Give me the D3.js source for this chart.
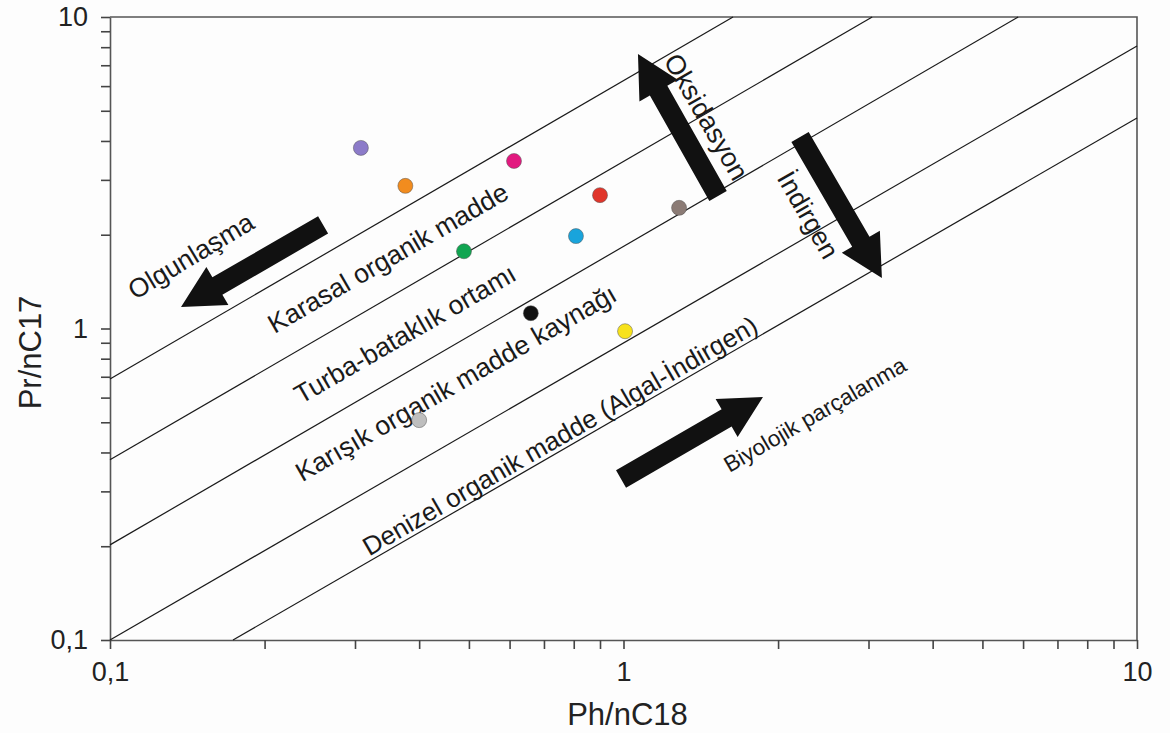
<!DOCTYPE html>
<html><head><meta charset="utf-8">
<script src="https://cdn.jsdelivr.net/npm/d3@7"></script>
<style>
html,body{margin:0;padding:0;background:#fdfdfd;}
svg{display:block;font-family:"Liberation Sans",Arial,sans-serif;}
</style></head>
<body>
<svg id="chart" width="1170" height="733"></svg>
<script>
// ---- data ----
const samples = ["s1","s2","s3","s4","s5","s6","s7","s8","s9","s10"];
const phC18 = [0.308, 0.376, 0.612, 0.900, 1.283, 0.489, 0.808, 0.660, 1.007, 0.400];
const prC17 = [3.80, 2.87, 3.45, 2.68, 2.44, 1.77, 1.98, 1.12, 0.98, 0.508];
const sampleColors = ["#8c7bc9","#f28c1e","#e2197f","#e0352b","#8b7b75","#11a551","#19a4dc","#111111","#f7e21b","#bebebe"];

// boundary lines: start and end in data units (Ph/nC18, Pr/nC17)
const lineX1 = [0.1, 0.1, 0.1, 0.1, 0.1736];
const lineY1 = [0.689, 0.379, 0.202, 0.1, 0.1];
const lineX2 = [1.634, 3.05, 5.87, 10, 10];
const lineY2 = [10, 10, 10, 8.07, 4.74];

// zone labels
const zoneText = ["Karasal organik madde","Turba-bataklık ortamı","Karışık organik madde kaynağı","Denizel organik madde (Algal-İndirgen)","Olgunlaşma","Oksidasyon","İndirgen","Biyolojik parçalanma"];
const zoneX = [0.348, 0.3755, 0.4718, 0.752, 0.1438, 1.448, 2.287, 2.36];
const zoneY = [1.684, 0.960, 0.668, 0.452, 1.709, 4.775, 2.314, 0.528];
const zoneAngle = [-30, -30, -30, -30, -31, 60, 60, -30];
const zoneSize = [26.5, 26.5, 26.5, 26, 26.5, 27, 26.5, 22.5];

// direction arrows: tail and tip in data units
const arrowTailX = [0.260, 0.989, 1.528, 2.207];
const arrowTailY = [2.15, 0.3287, 2.663, 4.12];
const arrowTipX = [0.1375, 1.869, 1.067, 3.186];
const arrowTipY = [1.172, 0.603, 7.605, 1.452];

const xTickLabels = {"0.1":"0,1","1":"1","10":"10"};
const yTickLabels = {"0.1":"0,1","1":"1","10":"10"};
const xTitle = "Ph/nC18", yTitle = "Pr/nC17";

// ---- layout ----
const L = 110, R = 1137, T = 17, B = 640;
const svg = d3.select("#chart");
const x = d3.scaleLog().domain([0.1, 10]).range([L, R]);
const y = d3.scaleLog().domain([0.1, 10]).range([B, T]);

const minorTicks = [];
[0.1, 1].forEach(d => { for (let k = 1; k <= 9; k++) minorTicks.push(+(d * k).toPrecision(3)); });
minorTicks.push(10);

const fmtX = d => xTickLabels[String(d)] || "";
const fmtY = d => yTickLabels[String(d)] || "";

const gx = svg.append("g").attr("transform", `translate(0,${B})`)
  .call(d3.axisBottom(x).tickValues(minorTicks).tickFormat(fmtX).tickSize(9).tickSizeOuter(0).tickPadding(13));
const gy = svg.append("g").attr("transform", `translate(${L},0)`)
  .call(d3.axisLeft(y).tickValues(minorTicks).tickFormat(fmtY).tickSize(9).tickSizeOuter(0).tickPadding(13));
[gx, gy].forEach(g => {
  g.select(".domain").attr("stroke", "#555").attr("stroke-width", 1.6);
  g.selectAll(".tick line").attr("stroke", "#444").attr("stroke-width", 1.6);
  g.selectAll(".tick text").attr("font-size", 27).attr("fill", "#222").attr("font-family", "Liberation Sans, Arial, sans-serif");
});

// frame top/right
svg.append("path")
  .attr("d", `M${L},${T}H${R}V${B}`)
  .attr("fill", "none").attr("stroke", "#555").attr("stroke-width", 1.6);

// boundary lines
svg.append("g").selectAll("line").data(lineX1).join("line")
  .attr("x1", (d, i) => x(lineX1[i])).attr("y1", (d, i) => y(lineY1[i]))
  .attr("x2", (d, i) => x(lineX2[i])).attr("y2", (d, i) => y(lineY2[i]))
  .attr("stroke", "#1a1a1a").attr("stroke-width", 1.2);

// arrows
const SW = 10, HW = 22, HL = 42;
svg.append("g").selectAll("path").data(arrowTailX).join("path")
  .attr("d", (d, i) => {
    const x0 = x(arrowTailX[i]), y0 = y(arrowTailY[i]);
    const x1 = x(arrowTipX[i]), y1 = y(arrowTipY[i]);
    const len = Math.hypot(x1 - x0, y1 - y0);
    return `M0,${-SW}L${len - HL},${-SW}L${len - HL},${-HW}L${len},0L${len - HL},${HW}L${len - HL},${SW}L0,${SW}Z`;
  })
  .attr("transform", (d, i) => {
    const x0 = x(arrowTailX[i]), y0 = y(arrowTailY[i]);
    const x1 = x(arrowTipX[i]), y1 = y(arrowTipY[i]);
    const a = Math.atan2(y1 - y0, x1 - x0) * 180 / Math.PI;
    return `translate(${x0},${y0}) rotate(${a})`;
  })
  .attr("fill", "#111");

// zone labels
svg.append("g").selectAll("text").data(zoneText).join("text")
  .attr("transform", (d, i) => `translate(${x(zoneX[i])},${y(zoneY[i])}) rotate(${zoneAngle[i]})`)
  .attr("text-anchor", "middle").attr("dominant-baseline", "central")
  .attr("font-size", (d, i) => zoneSize[i]).attr("fill", "#1a1a1a")
  .text(d => d);

// samples
svg.append("g").selectAll("circle").data(samples).join("circle")
  .attr("cx", (d, i) => x(phC18[i])).attr("cy", (d, i) => y(prC17[i]))
  .attr("r", 7.5)
  .attr("fill", (d, i) => sampleColors[i])
  .attr("stroke", "#555").attr("stroke-width", 0.5);

// axis titles
svg.append("text").attr("x", (L + R) / 2 + 4).attr("y", 714)
  .attr("text-anchor", "middle").attr("dominant-baseline", "central")
  .attr("font-size", 31).attr("fill", "#222").text(xTitle);
svg.append("text").attr("transform", `translate(30,${(T + B) / 2 + 24}) rotate(-90)`)
  .attr("text-anchor", "middle").attr("dominant-baseline", "central")
  .attr("font-size", 31).attr("fill", "#222").text(yTitle);
</script>
</body></html>
